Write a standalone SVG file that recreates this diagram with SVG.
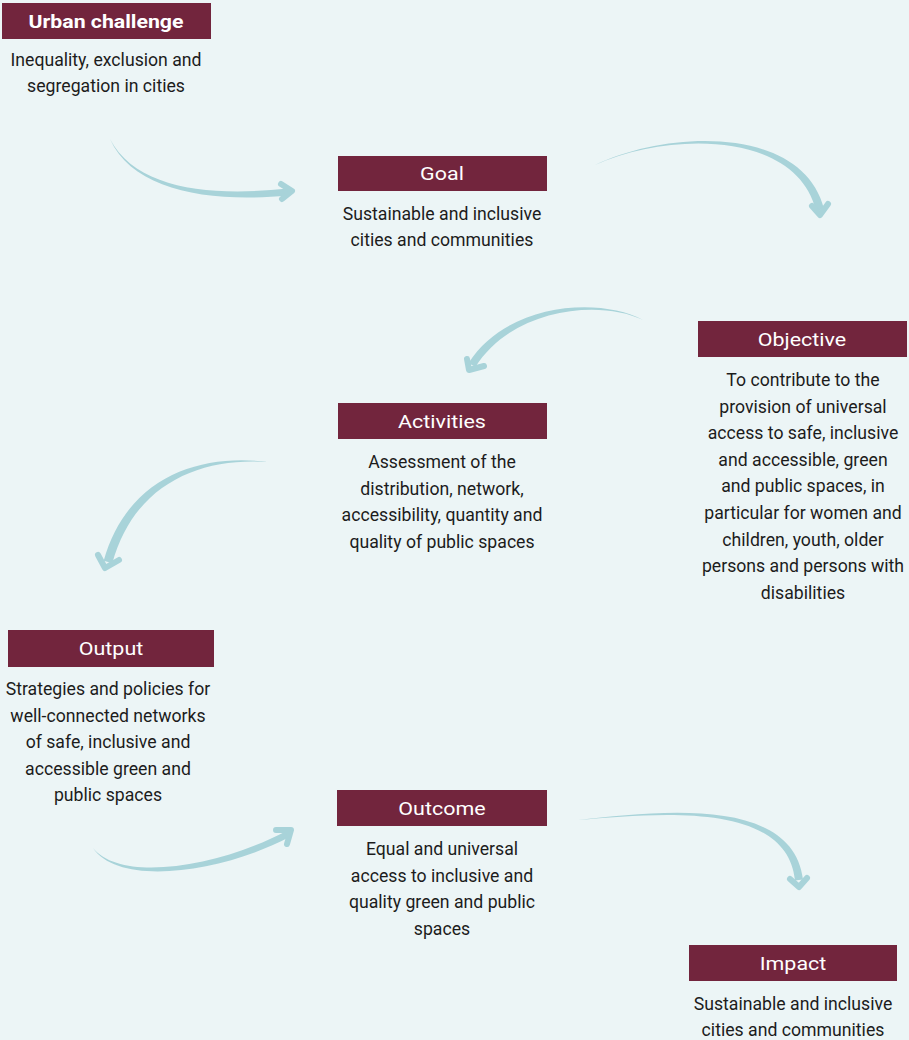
<svg xmlns="http://www.w3.org/2000/svg" width="909" height="1040" viewBox="0 0 909 1040">
<style>
.hdr{fill:#72253D}
.ht{font-family:Roboto,"Liberation Sans",sans-serif;font-size:19px;font-weight:400;fill:#ffffff;text-anchor:middle}
.bt{font-family:Roboto,"Liberation Sans",sans-serif;font-size:18.5px;fill:#1c1c1c;text-anchor:middle}
.arr{fill:#A8D3D9}
.chev{fill:none;stroke:#A8D3D9;stroke-width:6;stroke-linecap:round;stroke-linejoin:round}
</style>
<rect width="909" height="1040" fill="#ECF5F6"/>
<g id="connectors">
<path class="arr" d="M110,139 C136,189 210,197 288,188.5 L288,195.5 C210,203 133,191 110,139 Z"/>
<path class="chev" d="M281,184 L292,191 L282,199"/>
<path class="arr" d="M595,165 C670,129 803,126 824,209 L816,211 C797,131 670,131 595,165 Z"/>
<path class="chev" d="M812,206 L820,215 L828,204"/>
<path class="arr" d="M643,320 C600,297 508,302 468.6,362.9 L475.4,367.1 C512,308 600,299 643,320 Z"/>
<path class="chev" d="M467,359 L469,370 L484,366"/>
<path class="arr" d="M268,462 C200,453 127,477 103.7,560.8 L112.3,563.2 C134,484 200,457 268,462 Z"/>
<path class="chev" d="M98,555 L105,568 L119,560"/>
<path class="arr" d="M93,848 C119,887 221,873 289.6,837.1 L286.4,830.9 C219,867 121,883 93,848 Z"/>
<path class="chev" d="M276,830 L291,830 L287,844"/>
<path class="arr" d="M578,820 C660,811 793,796 803,879.6 L795,880.4 C787,801 660,813 578,820 Z"/>
<path class="chev" d="M790,879 L799,887 L807,878"/>
</g>
<g id="urban-challenge">
<rect class="hdr" x="2" y="3" width="209" height="36"/>
<text class="ht" transform="translate(106 0) scale(1.12 1)" x="0" y="28" style="font-weight:700">Urban challenge</text>
<g transform="translate(106 0) scale(0.955 1)">
<text class="bt" x="0" y="66">Inequality, exclusion and</text>
<text class="bt" x="0" y="92.5">segregation in cities</text>
</g>
</g>
<g id="goal">
<rect class="hdr" x="338" y="156" width="209" height="35"/>
<text class="ht" transform="translate(442 0) scale(1.13 1)" x="0" y="180.5">Goal</text>
<g transform="translate(442 0) scale(0.955 1)">
<text class="bt" x="0" y="220">Sustainable and inclusive</text>
<text class="bt" x="0" y="246.5">cities and communities</text>
</g>
</g>
<g id="objective">
<rect class="hdr" x="698" y="321" width="209" height="36"/>
<text class="ht" transform="translate(802 0) scale(1.13 1)" x="0" y="346">Objective</text>
<g transform="translate(803 0) scale(0.955 1)">
<text class="bt" x="0" y="386">To contribute to the</text>
<text class="bt" x="0" y="412.6">provision of universal</text>
<text class="bt" x="0" y="439.2">access to safe, inclusive</text>
<text class="bt" x="0" y="465.8">and accessible, green</text>
<text class="bt" x="0" y="492.4">and public spaces, in</text>
<text class="bt" x="0" y="519">particular for women and</text>
<text class="bt" x="0" y="545.6">children, youth, older</text>
<text class="bt" x="0" y="572.2">persons and persons with</text>
<text class="bt" x="0" y="598.8">disabilities</text>
</g>
</g>
<g id="activities">
<rect class="hdr" x="338" y="403" width="209" height="36"/>
<text class="ht" transform="translate(442 0) scale(1.13 1)" x="0" y="428">Activities</text>
<g transform="translate(442 0) scale(0.955 1)">
<text class="bt" x="0" y="468">Assessment of the</text>
<text class="bt" x="0" y="494.6">distribution, network,</text>
<text class="bt" x="0" y="521.2">accessibility, quantity and</text>
<text class="bt" x="0" y="547.8">quality of public spaces</text>
</g>
</g>
<g id="output">
<rect class="hdr" x="8" y="630" width="206" height="37"/>
<text class="ht" transform="translate(111 0) scale(1.13 1)" x="0" y="655.5">Output</text>
<g transform="translate(108 0) scale(0.955 1)">
<text class="bt" x="0" y="695">Strategies and policies for</text>
<text class="bt" x="0" y="721.6">well-connected networks</text>
<text class="bt" x="0" y="748.2">of safe, inclusive and</text>
<text class="bt" x="0" y="774.8">accessible green and</text>
<text class="bt" x="0" y="801.4">public spaces</text>
</g>
</g>
<g id="outcome">
<rect class="hdr" x="337" y="790" width="210" height="36"/>
<text class="ht" transform="translate(442 0) scale(1.13 1)" x="0" y="815">Outcome</text>
<g transform="translate(442 0) scale(0.955 1)">
<text class="bt" x="0" y="855">Equal and universal</text>
<text class="bt" x="0" y="881.6">access to inclusive and</text>
<text class="bt" x="0" y="908.2">quality green and public</text>
<text class="bt" x="0" y="934.8">spaces</text>
</g>
</g>
<g id="impact">
<rect class="hdr" x="689" y="945" width="208" height="36"/>
<text class="ht" transform="translate(793 0) scale(1.13 1)" x="0" y="970">Impact</text>
<g transform="translate(793 0) scale(0.955 1)">
<text class="bt" x="0" y="1010">Sustainable and inclusive</text>
<text class="bt" x="0" y="1036.5">cities and communities</text>
</g>
</g>
</svg>
